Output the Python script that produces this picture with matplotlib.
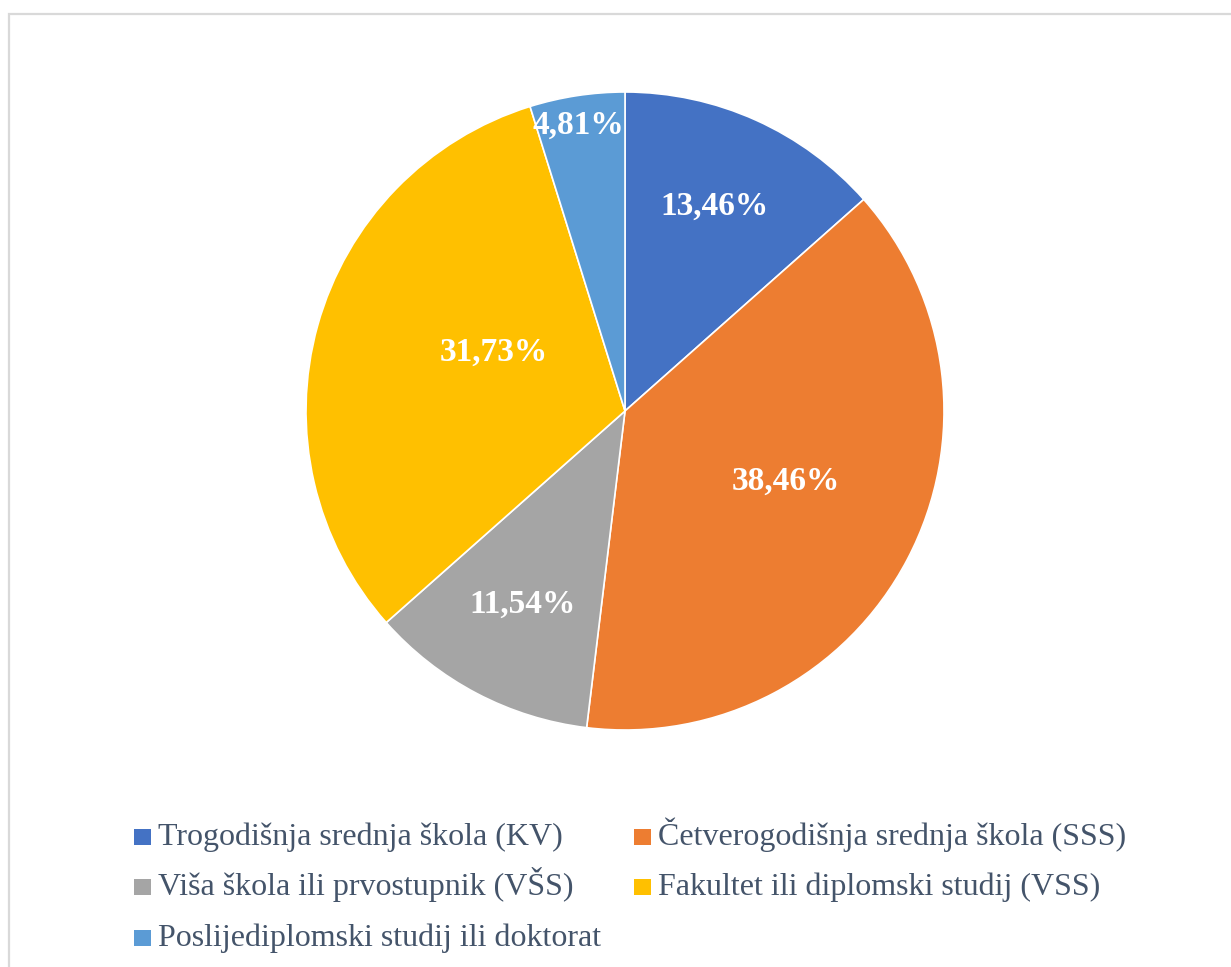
import math
import matplotlib
matplotlib.use("Agg")
import matplotlib.pyplot as plt
from matplotlib.patches import Rectangle

# podaci
kategorije = ['Trogodišnja srednja škola (KV)',
              'Četverogodišnja srednja škola (SSS)',
              'Viša škola ili prvostupnik (VŠS)',
              'Fakultet ili diplomski studij (VSS)',
              'Poslijediplomski studij ili doktorat']
postotci = [13.46, 38.46, 11.54, 31.73, 4.81]
boje = ['#4472C4', '#ED7D31', '#A5A5A5', '#FFC000', '#5B9BD5']

plt.rcParams['font.family'] = ['Liberation Serif', 'DejaVu Serif']

W, H, DPI = 1231, 967, 100
fig = plt.figure(figsize=(W / DPI, H / DPI), dpi=DPI)

# okvir grafikona
fig.patches.append(Rectangle((8.5 / W, -0.1), 1.2, 1.1 - 13.5 / H,
                             transform=fig.transFigure, fill=False,
                             edgecolor='#D9D9D9', linewidth=1.6))

# pita
cx, cy, r = 625, 967 - 411, 319
ax = fig.add_axes([(cx - r) / W, (cy - r) / H, 2 * r / W, 2 * r / H])
wedges, _ = ax.pie(postotci, colors=boje, startangle=90, counterclock=False,
                   radius=1, wedgeprops=dict(edgecolor='white', linewidth=1.2))
ax.set_xlim(-1, 1)
ax.set_ylim(-1, 1)
ax.axis('off')

# polozaj oznaka (udaljenost od sredista, kut u stupnjevima)
polozaj = [(0.70, 66.4), (0.55, -23.7), (0.686, -118.0), (0.45, 156.0), (0.907, 99.2)]
for p, (d, kut) in zip(postotci, polozaj):
    x = d * math.cos(math.radians(kut))
    y = d * math.sin(math.radians(kut))
    ax.text(x, y, f'{p:.2f}%'.replace('.', ','), ha='center', va='center',
            color='white', fontsize=24, fontweight='bold')

# legenda (rucno, da se redovi poravnaju): stupci x, redovi baseline u pikselima
stupci = [134, 634]
redovi = [845, 895, 946]
raspored = [(0, 0), (1, 0), (0, 1), (1, 1), (0, 2)]
for i, (s, rd) in enumerate(raspored):
    x0 = stupci[s]
    yb = H - redovi[rd]
    fig.patches.append(Rectangle((x0 / W, yb / H), 17 / W, 16 / H,
                                 transform=fig.transFigure,
                                 facecolor=boje[i], edgecolor='none'))
    fig.text((x0 + 24) / W, yb / H, kategorije[i], ha='left', va='baseline',
             fontsize=23, color='#44546A')

fig.savefig('out.png', dpi=DPI)
